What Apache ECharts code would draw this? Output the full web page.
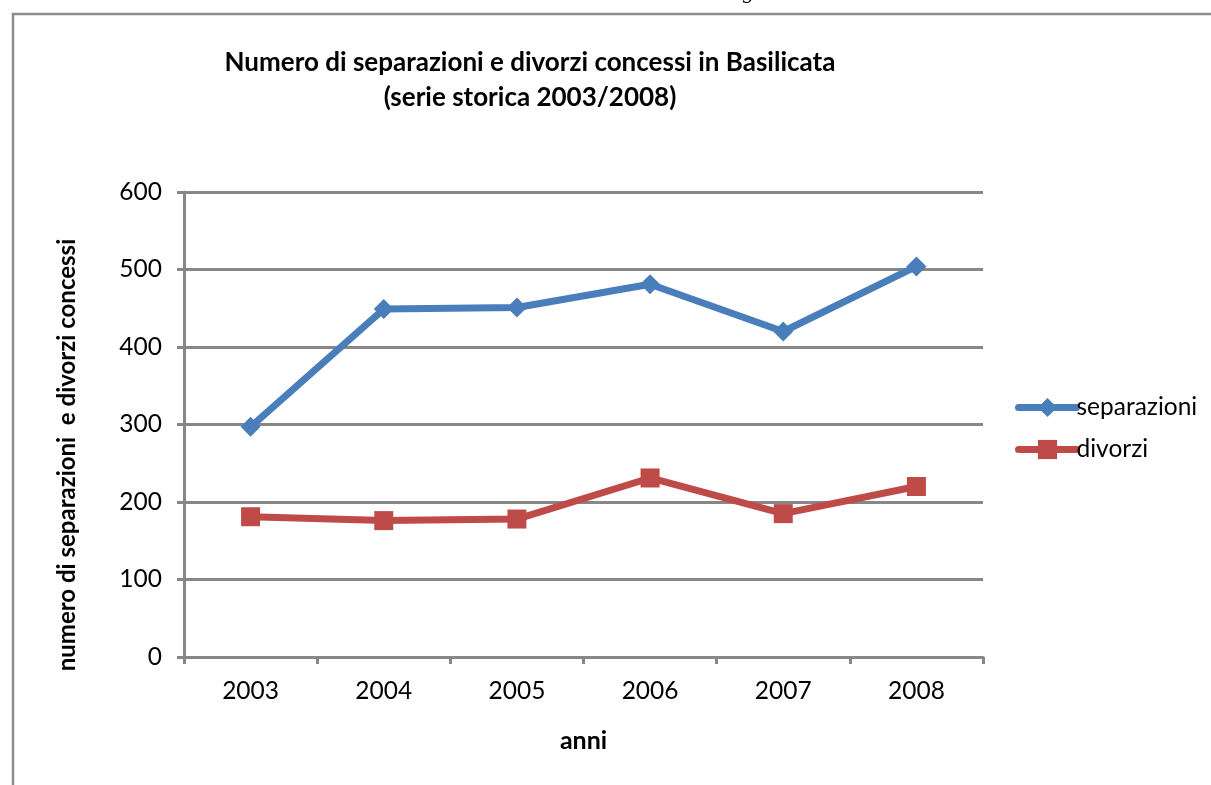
<!DOCTYPE html>
<html>
<head>
<meta charset="utf-8">
<style>
  html, body { margin: 0; padding: 0; background: #ffffff; }
  #chart { width: 1211px; height: 785px; }
</style>
<script src="https://cdn.jsdelivr.net/npm/echarts@6/dist/echarts.min.js"></script>
</head>
<body>
<div id="chart"></div>
<script>
// Anni della serie storica
const anni = ['2003', '2004', '2005', '2006', '2007', '2008'];
// Separazioni concesse per anno
const separazioni = [297, 449, 451, 481, 420, 504];
// Divorzi concessi per anno
const divorzi = [181, 176, 178, 231, 185, 220];
// Scala dell'asse verticale
const yMin = 0, yMax = 600, yStep = 100;

const FONT = 'Lato, "Open Sans", sans-serif';
const AXIS_GREY = '#878787';
const BLUE = '#4a7ebb';
const RED = '#be4b48';

const chart = echarts.init(document.getElementById('chart'), null, { renderer: 'canvas' });

chart.setOption({
  backgroundColor: '#ffffff',
  animation: false,
  title: {
    text: 'Numero di separazioni e divorzi concessi in Basilicata\n(serie storica 2003/2008)',
    left: 525,
    top: 40,
    textAlign: 'center',
    textStyle: {
      fontFamily: FONT,
      fontWeight: 'bold',
      fontSize: 26,
      lineHeight: 35,
      color: '#000000'
    }
  },
  legend: {
    orient: 'vertical',
    left: 1010,
    top: 390,
    itemWidth: 58,
    itemHeight: 24,
    itemGap: 17,
    lineStyle: { width: 7, cap: 'round' },
    textStyle: { fontFamily: FONT, fontSize: 24.5, lineHeight: 25, color: '#000000', padding: [0, 0, 0, -5] },
    data: ['separazioni', 'divorzi']
  },
  grid: {
    left: 184,
    top: 192,
    width: 799,
    height: 465,
    containLabel: false
  },
  xAxis: {
    type: 'category',
    data: anni,
    boundaryGap: true,
    name: 'anni',
    nameLocation: 'middle',
    nameGap: 71,
    nameTextStyle: { fontFamily: FONT, fontWeight: 'bold', fontSize: 25, color: '#000000' },
    axisLine: { lineStyle: { color: AXIS_GREY, width: 3 } },
    axisTick: { show: true, length: 7, lineStyle: { color: AXIS_GREY, width: 3 } },
    axisLabel: { fontFamily: FONT, fontSize: 24.5, color: '#000000', margin: 22 },
    splitLine: { show: false }
  },
  yAxis: {
    type: 'value',
    min: yMin,
    max: yMax,
    interval: yStep,
    axisLine: { show: true, lineStyle: { color: AXIS_GREY, width: 3 } },
    axisTick: { show: true, length: 7, lineStyle: { color: AXIS_GREY, width: 3 } },
    axisLabel: { fontFamily: FONT, fontSize: 24.5, color: '#000000', margin: 22 },
    splitLine: { show: true, lineStyle: { color: AXIS_GREY, width: 3 } }
  },
  series: [
    {
      name: 'separazioni',
      type: 'line',
      data: separazioni,
      symbol: 'diamond',
      symbolSize: 20,
      itemStyle: { color: BLUE },
      lineStyle: { color: BLUE, width: 7 },
      z: 3
    },
    {
      name: 'divorzi',
      type: 'line',
      data: divorzi,
      symbol: 'rect',
      symbolSize: 19,
      itemStyle: { color: RED },
      lineStyle: { color: RED, width: 7 },
      z: 3
    }
  ],
  graphic: [
    {
      type: 'rect',
      shape: { x: 13, y: 14, width: 1400, height: 1000 },
      style: { fill: 'none', stroke: '#8c8c8c', lineWidth: 2.5 },
      silent: true,
      z: -1
    },
    {
      // Titolo dell'asse verticale, ruotato
      type: 'text',
      x: 67,
      y: 455,
      rotation: Math.PI / 2,
      style: {
        text: 'numero di separazioni  e divorzi concessi',
        font: 'bold 24px ' + FONT,
        fill: '#000000',
        align: 'center',
        verticalAlign: 'middle'
      },
      silent: true
    },
    {
      type: 'text',
      left: 741,
      top: -16,
      style: { text: 'g', font: '20px "DejaVu Serif", serif', fill: '#000000' },
      silent: true
    }
  ]
});
</script>
</body>
</html>
